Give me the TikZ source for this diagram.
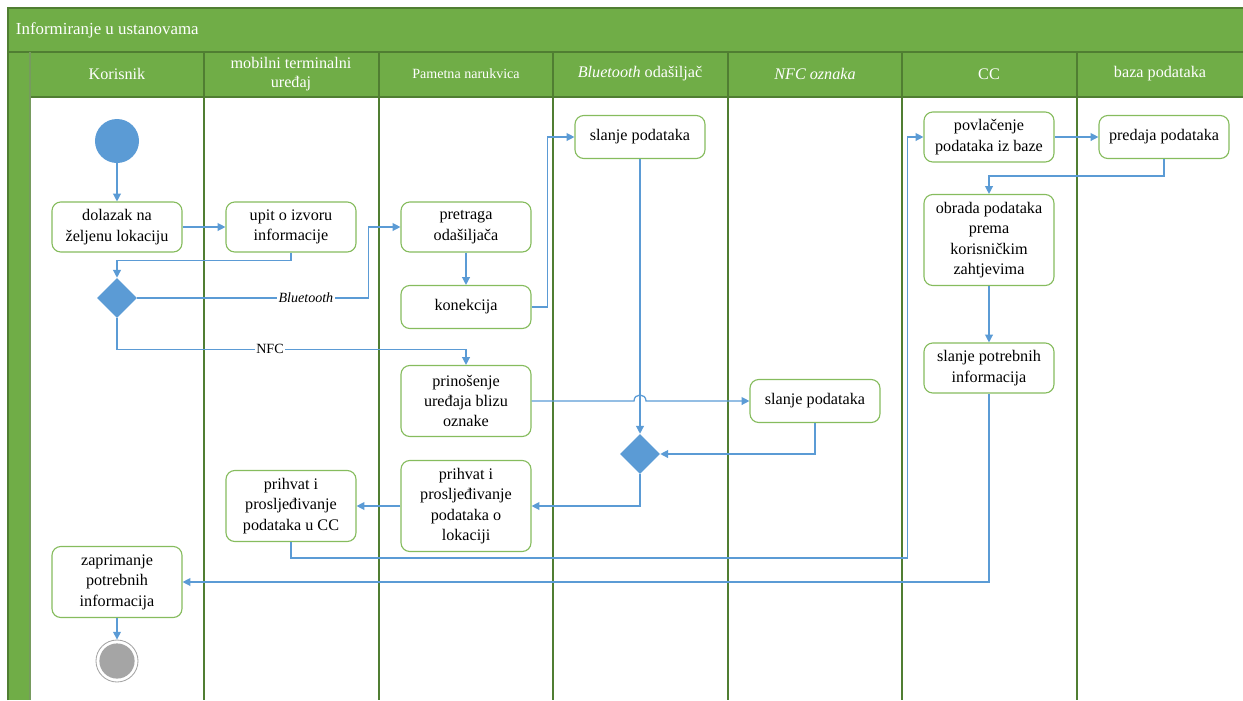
\documentclass[tikz,border=0pt]{standalone}
\usepackage{fontspec}
\setmainfont{Liberation Serif}
\usetikzlibrary{arrows.meta, shapes.geometric, positioning, calc}
\definecolor{lanegreen}{HTML}{70AD47}
\definecolor{darkgreen}{HTML}{507E32}
\definecolor{boxgreen}{HTML}{86BC5E}
\definecolor{flowblue}{HTML}{5B9BD5}
\definecolor{endgray}{HTML}{A5A5A5}

\begin{document}
\begin{tikzpicture}[x=0.025cm, y=-0.025cm,
  activity/.style={draw=boxgreen, line width=0.8pt, fill=white, rounded corners=0.22cm,
    align=center, minimum width=3.25cm, inner sep=2pt, font=\fontsize{11.5}{14.5}\selectfont},
  decision/.style={diamond, fill=flowblue, minimum size=1cm, inner sep=0pt},
  flow/.style={draw=flowblue, line width=0.9pt, -{Triangle[length=5.5pt, width=5.5pt]}},
  header/.style={text=white, align=center, font=\fontsize{11.5}{14}\selectfont},
  guard/.style={fill=white, inner sep=1pt, font=\fontsize{10}{12}\selectfont}]
  \useasboundingbox (0,0) rectangle (1243,700);

  \fill[lanegreen] (8,8) rectangle (1243,97);
  \fill[lanegreen] (8,52) rectangle (30,700);
  \draw[darkgreen, line width=1.2pt] (8,700) -- (8,8) -- (1243,8);
  \draw[darkgreen, line width=0.8pt] (8,52) -- (1243,52);
  \draw[darkgreen, line width=0.8pt] (30,97) -- (1243,97);
  \draw[lanegreen!60!gray, line width=0.8pt] (30,52) -- (30,700);
  \foreach \x in {204,379,553,728,902,1077}{
    \draw[darkgreen, line width=1pt] (\x,52) -- (\x,700);
    };

  \node[header, anchor=west, font=\fontsize{12}{14}\selectfont] (title) at (11,30) {Informiranje u ustanovama};
  \foreach \x/\name/\txt in {117/korisnik/Korisnik,
      291/mobilni/{mobilni terminalni\\uređaj},
      466/narukvica/{\fontsize{10}{12}\selectfont Pametna narukvica},
      640/odasiljac/{\textit{Bluetooth} odašiljač},
      815/oznaka/{\textit{NFC oznaka}},
      989/cc/CC,
      1160/baza/baza podataka}{
    \node[header] (hdr-\name) at (\x,74) {\txt};
    };

  \node[circle, fill=flowblue, minimum size=1.1cm, inner sep=0pt] (start) at (117,141) {};
  \node[activity, minimum height=1.25cm] (dolazak) at (117,227) {dolazak na\\željenu lokaciju};
  \node[activity, minimum height=1.25cm] (upit) at (291,227) {upit o izvoru\\informacije};
  \node[decision] (dec1) at (117,298) {};
  \node[activity, minimum height=1.25cm] (pretraga) at (466,227) {pretraga\\odašiljača};
  \node[activity, minimum height=1.075cm] (konekcija) at (466,307) {konekcija};
  \node[activity, minimum height=1.075cm] (slanjebt) at (640,137) {slanje podataka};
  \node[activity, minimum height=1.775cm] (prinosenje) at (466,401) {prinošenje\\uređaja blizu\\oznake};
  \node[activity, minimum height=1.075cm] (slanjenfc) at (815,401) {slanje podataka};
  \node[decision] (dec2) at (640,454) {};
  \node[activity, minimum height=2.275cm] (prihvatlok) at (466,506) {prihvat i\\prosljeđivanje\\podataka o\\lokaciji};
  \node[activity, minimum height=1.775cm] (prihvatcc) at (291,506) {prihvat i\\prosljeđivanje\\podataka u CC};
  \node[activity, minimum height=1.25cm] (povlacenje) at (989,137) {povlačenje\\podataka iz baze};
  \node[activity, minimum height=1.075cm] (predaja) at (1164,137) {predaja podataka};
  \node[activity, minimum height=2.275cm] (obrada) at (989,240) {obrada podataka\\prema\\korisničkim\\zahtjevima};
  \node[activity, minimum height=1.25cm] (slanjepotr) at (989,368) {slanje potrebnih\\informacija};
  \node[activity, minimum height=1.775cm] (zaprimanje) at (117,582) {zaprimanje\\potrebnih\\informacija};
  \node[circle, draw=endgray, line width=0.6pt, fill=white, minimum size=1.05cm, inner sep=0pt] (end) at (117,661) {};
  \node[circle, fill=endgray, minimum size=0.88cm, inner sep=0pt] (endfill) at (end.center) {};

  \draw[flow] (start) -- (dolazak);
  \draw[flow] (dolazak) -- (upit);
  \draw[flow] (upit.south) -- ++(0,8) -| (dec1.north);
  \draw[flow] (dec1.east) -- node[guard, pos=0.73] {\textit{Bluetooth}} ++(231,0) |- (pretraga.west);
  \draw[flow] (dec1.south) -- ++(0,31) -- node[guard] {NFC} ++(306,0) -| (prinosenje.north);
  \draw[flow] (pretraga) -- (konekcija);
  \draw[flow] (konekcija.east) -- ++(16,0) |- (slanjebt.west);
  \draw[flow] (slanjebt.south) -- (dec2.north);
  \draw[flow] (prinosenje.east) -- ($(prinosenje.east -| slanjebt.south)+(-6,0)$)
    .. controls +(0,-8) and +(0,-8) .. ++(12,0) -- (slanjenfc.west);
  \draw[flow] (slanjenfc.south) |- (dec2.east);
  \draw[flow] (dec2.south) |- (prihvatlok.east);
  \draw[flow] (prihvatlok) -- (prihvatcc);
  \draw[flow] (prihvatcc.south) -- ++(0,16) -| ($(povlacenje.west)+(-16,0)$) -- (povlacenje.west);
  \draw[flow] (povlacenje) -- (predaja);
  \draw[flow] (predaja.south) -- ++(0,17) -| (obrada.north);
  \draw[flow] (obrada) -- (slanjepotr);
  \draw[flow] (slanjepotr.south) |- (zaprimanje.east);
  \draw[flow] (zaprimanje) -- (end);
\end{tikzpicture}
\end{document}
